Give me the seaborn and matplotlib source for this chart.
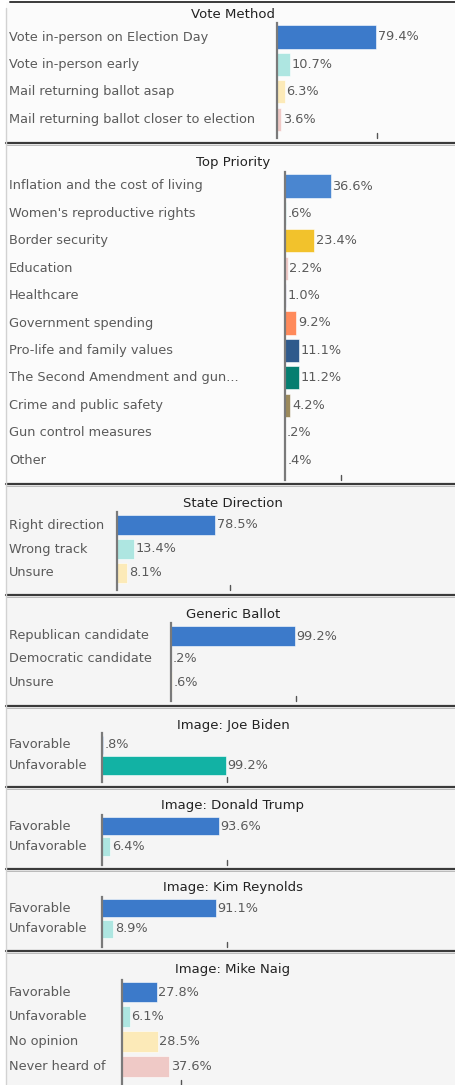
import matplotlib
matplotlib.use("Agg")
import matplotlib.pyplot as plt
import seaborn as sns
from matplotlib.transforms import blended_transform_factory
from matplotlib.patches import Rectangle
from matplotlib.lines import Line2D

sns.set_theme(style="white")
plt.rcParams["font.family"] = ["DejaVu Sans"]

# ---- data ----
BLUE = "#3C7ACA"
TEAL_L = "#AEE6E1"
YELLOW_L = "#FCEAB8"
PINK_L = "#EFC9C6"

titles = ["Vote Method", "Top Priority", "State Direction", "Generic Ballot",
          "Image: Joe Biden", "Image: Donald Trump", "Image: Kim Reynolds",
          "Image: Mike Naig"]

vote_labels = ["Vote in-person on Election Day", "Vote in-person early",
               "Mail returning ballot asap", "Mail returning ballot closer to election"]
vote_values = [79.4, 10.7, 6.3, 3.6]
vote_colors = [BLUE, TEAL_L, YELLOW_L, PINK_L]

priority_labels = ["Inflation and the cost of living", "Women's reproductive rights",
                   "Border security", "Education", "Healthcare", "Government spending",
                   "Pro-life and family values", "The Second Amendment and gun...",
                   "Crime and public safety", "Gun control measures", "Other"]
priority_values = [36.6, 0.6, 23.4, 2.2, 1.0, 9.2, 11.1, 11.2, 4.2, 0.2, 0.4]
priority_colors = ["#4A86D0", TEAL_L, "#F2C22C", PINK_L, "#C9B8E0", "#FF8A5B",
                   "#2F5A8C", "#057E70", "#9C8A5C", "#C8C8C8", "#D0D0D0"]

direction_labels = ["Right direction", "Wrong track", "Unsure"]
direction_values = [78.5, 13.4, 8.1]
direction_colors = [BLUE, TEAL_L, YELLOW_L]

ballot_labels = ["Republican candidate", "Democratic candidate", "Unsure"]
ballot_values = [99.2, 0.2, 0.6]
ballot_colors = [BLUE, TEAL_L, YELLOW_L]

fav_labels = ["Favorable", "Unfavorable"]
biden_values = [0.8, 99.2]
biden_colors = [BLUE, "#12B2A4"]
trump_values = [93.6, 6.4]
reynolds_values = [91.1, 8.9]
fav_colors = [BLUE, TEAL_L]

naig_labels = ["Favorable", "Unfavorable", "No opinion", "Never heard of"]
naig_values = [27.8, 6.1, 28.5, 37.6]
naig_colors = [BLUE, TEAL_L, YELLOW_L, PINK_L]

tick_values = [80, 45, 90, 100, 100, 100, 100, 47]

panels = [
    (vote_labels, vote_values, vote_colors),
    (priority_labels, priority_values, priority_colors),
    (direction_labels, direction_values, direction_colors),
    (ballot_labels, ballot_values, ballot_colors),
    (fav_labels, biden_values, biden_colors),
    (fav_labels, trump_values, fav_colors),
    (fav_labels, reynolds_values, fav_colors),
    (naig_labels, naig_values, naig_colors),
]

# ---- layout (pixels from top-left) ----
W, H = 456, 1085
panel_y = [(2, 143), (143, 483), (484, 595), (595, 706), (706, 787),
           (787, 869), (869, 951), (951, 1085)]
axis_x = [277, 285, 117, 171, 102, 102, 102, 122]
title_y = [14, 162, 503, 614, 725, 806, 887, 970]
row0_y = [37, 186, 525, 636, 745, 826, 908, 992]
row_gap = [27.4, 27.4, 24, 23, 20.5, 20.5, 21, 24.7]
axis_top = [23, 172, 512, 623, 733, 815, 897, 980]
axis_bot = [138, 480, 590, 701, 782, 865, 947, 1085]
bar_w = [0.84, 0.84, 0.8, 0.83, 0.88, 0.88, 0.86, 0.85]
PX_PER_PCT = 1.25
LABEL_C = "#5a5a5a"
FS = 9.3

fig = plt.figure(figsize=(W / 100, H / 100), dpi=100)
fig.patch.set_facecolor("white")

# panel backgrounds and separators
for k, (t, b) in enumerate(panel_y):
    fc = "#fbfbfb" if k < 2 else "#f5f5f5"
    fig.add_artist(Rectangle((6 / W, 1 - b / H), 1 - 6 / W, (b - t) / H,
                             transform=fig.transFigure, facecolor=fc,
                             edgecolor="none", zorder=0))
    if k > 0:
        fig.add_artist(Line2D([6 / W, 1], [1 - t / H] * 2, transform=fig.transFigure,
                              color="#3a3a3a", lw=1.6, zorder=5))
        fig.add_artist(Line2D([6 / W, 1], [1 - (t + 1.8) / H] * 2,
                              transform=fig.transFigure, color="#b0b0b0", lw=0.6, zorder=5))
fig.add_artist(Line2D([10 / W, 1], [1 - 2 / H] * 2, transform=fig.transFigure,
                      color="#3a3a3a", lw=1.4, zorder=5))
fig.add_artist(Line2D([6 / W, 6 / W], [1 - 8 / H, 0], transform=fig.transFigure,
                      color="#d2d2d2", lw=1.0, zorder=5))


def pct(v):
    s = f"{v:.1f}%"
    return s[1:] if s.startswith("0") else s


for k, (labels, values, colors) in enumerate(panels):
    x0 = axis_x[k]
    ax = fig.add_axes([x0 / W, 1 - axis_bot[k] / H, (452 - x0) / W,
                       (axis_bot[k] - axis_top[k]) / H])
    ax.patch.set_alpha(0)
    sns.barplot(x=values, y=labels, hue=labels, palette=colors, legend=False,
                orient="h", width=bar_w[k], ax=ax, saturation=1,
                edgecolor="white", linewidth=0.4)
    ax.set_xlim(0, (452 - x0) / PX_PER_PCT)
    y_top = -(row0_y[k] - axis_top[k]) / row_gap[k]
    y_bot = (axis_bot[k] - row0_y[k]) / row_gap[k]
    ax.set_ylim(y_bot, y_top)
    for side in ["top", "right", "bottom"]:
        ax.spines[side].set_visible(False)
    ax.spines["left"].set_color("#7a7a7a")
    ax.spines["left"].set_linewidth(1.6)
    ax.set_yticks([])
    ax.set_xticks([])
    ax.set_xlabel("")
    ax.set_ylabel("")
    # single small tick mark at the bottom
    ax.plot([tick_values[k]] * 2, [y_bot, y_bot - 5 / row_gap[k]], color="#555555",
            lw=1.0, clip_on=False)
    for c in ax.containers:
        ax.bar_label(c, fmt=pct, padding=1.2, color=LABEL_C, fontsize=FS)
    trans = blended_transform_factory(fig.transFigure, ax.transData)
    for i, lab in enumerate(labels):
        ax.text(9 / W, i, lab, transform=trans, ha="left", va="center",
                color=LABEL_C, fontsize=FS, clip_on=False)
    fig.text(233 / W, 1 - title_y[k] / H, titles[k], ha="center", va="center",
             color="#222222", fontsize=9.5)

fig.savefig("out.png", dpi=100)
